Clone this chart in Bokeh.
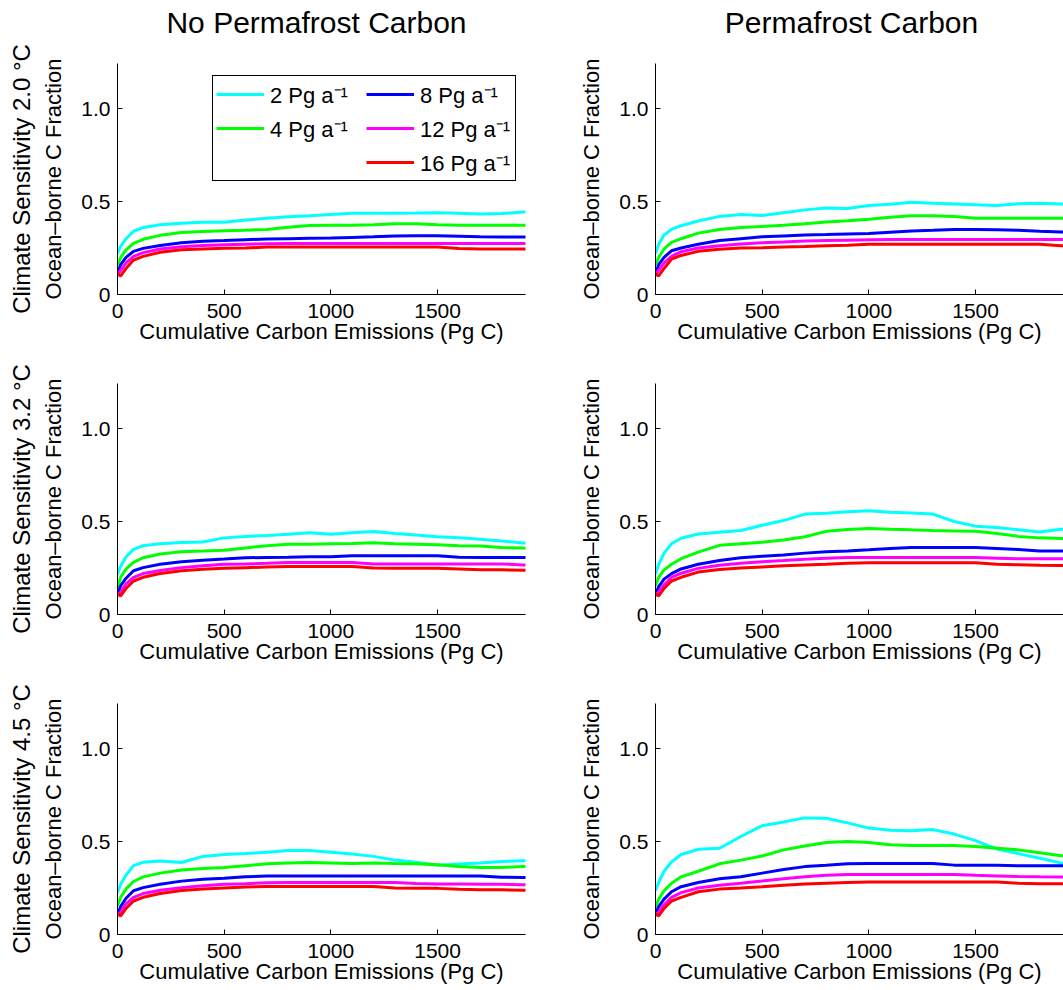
from bokeh.plotting import figure
from bokeh.layouts import column, row
from bokeh.models import Range1d, FixedTicker, Title, Legend, LegendItem
from bokeh.core.properties import value
from bokeh.embed import file_html
from bokeh.resources import INLINE

FONT = "Liberation Sans"

# ---------------- data ----------------
X = [0, 15, 40, 75, 120, 200, 300, 400, 500, 600, 700, 800, 900, 1000,
     1100, 1200, 1300, 1400, 1500, 1600, 1700, 1800, 1900, 1960]

LABELS = ["2 Pg a⁻¹", "4 Pg a⁻¹", "8 Pg a⁻¹", "12 Pg a⁻¹", "16 Pg a⁻¹"]
COLORS = ["#00FFFF", "#00FF00", "#0000FF", "#FF00FF", "#FF0000"]
COL_TITLES = ["No Permafrost Carbon", "Permafrost Carbon"]
ROW_TITLES = ["Climate Sensitivity 2.0 °C", "Climate Sensitivity 3.2 °C",
              "Climate Sensitivity 4.5 °C"]
X_LABEL = "Cumulative Carbon Emissions (Pg C)"
Y_LABEL = "Ocean–borne C Fraction"
X_TICKS = [0, 500, 1000, 1500]
Y_TICKS = [0, 0.5, 1.0]
Y_TICK_LABELS = {0: "0", 0.5: "0.5", 1: "1.0"}

# No permafrost carbon, climate sensitivity 2.0
np20_2 = [0.22, 0.26, 0.30, 0.34, 0.36, 0.375, 0.383, 0.388, 0.389, 0.40, 0.41, 0.418, 0.423, 0.43, 0.437, 0.437, 0.437, 0.438, 0.44, 0.437, 0.433, 0.435, 0.443, 0.445]
np20_4 = [0.157, 0.20, 0.24, 0.275, 0.297, 0.318, 0.333, 0.339, 0.343, 0.346, 0.35, 0.362, 0.371, 0.372, 0.373, 0.375, 0.38, 0.38, 0.375, 0.373, 0.372, 0.372, 0.372, 0.372]
np20_8 = [0.113, 0.16, 0.20, 0.232, 0.248, 0.264, 0.278, 0.286, 0.29, 0.295, 0.298, 0.30, 0.302, 0.304, 0.307, 0.31, 0.315, 0.316, 0.316, 0.313, 0.31, 0.309, 0.309, 0.309]
np20_12 = [0.109, 0.13, 0.17, 0.205, 0.225, 0.245, 0.257, 0.264, 0.267, 0.27, 0.273, 0.274, 0.274, 0.274, 0.274, 0.274, 0.274, 0.274, 0.274, 0.274, 0.274, 0.274, 0.274, 0.274]
np20_16 = [0.11, 0.10, 0.14, 0.185, 0.205, 0.227, 0.24, 0.245, 0.248, 0.25, 0.255, 0.255, 0.255, 0.255, 0.255, 0.255, 0.255, 0.255, 0.255, 0.247, 0.245, 0.245, 0.245, 0.245]

# Permafrost carbon, climate sensitivity 2.0
pf20_2 = [0.22, 0.27, 0.32, 0.35, 0.37, 0.395, 0.42, 0.43, 0.425, 0.44, 0.455, 0.465, 0.462, 0.478, 0.485, 0.496, 0.49, 0.487, 0.483, 0.478, 0.488, 0.49, 0.487, 0.484]
pf20_4 = [0.157, 0.20, 0.245, 0.28, 0.30, 0.33, 0.35, 0.36, 0.366, 0.372, 0.38, 0.39, 0.397, 0.405, 0.415, 0.423, 0.423, 0.42, 0.41, 0.41, 0.41, 0.41, 0.41, 0.41]
pf20_8 = [0.113, 0.16, 0.20, 0.235, 0.25, 0.27, 0.29, 0.30, 0.31, 0.315, 0.32, 0.322, 0.325, 0.328, 0.335, 0.342, 0.345, 0.35, 0.35, 0.348, 0.345, 0.34, 0.336, 0.335]
pf20_12 = [0.109, 0.13, 0.17, 0.205, 0.23, 0.25, 0.262, 0.272, 0.278, 0.282, 0.287, 0.29, 0.292, 0.294, 0.296, 0.296, 0.296, 0.296, 0.296, 0.296, 0.296, 0.296, 0.296, 0.296]
pf20_16 = [0.11, 0.10, 0.14, 0.19, 0.21, 0.232, 0.243, 0.25, 0.252, 0.255, 0.258, 0.262, 0.265, 0.27, 0.27, 0.27, 0.27, 0.27, 0.27, 0.27, 0.27, 0.27, 0.262, 0.26]

# No permafrost carbon, climate sensitivity 3.2
np32_2 = [0.217, 0.26, 0.31, 0.35, 0.37, 0.38, 0.387, 0.39, 0.412, 0.42, 0.425, 0.432, 0.44, 0.432, 0.44, 0.446, 0.436, 0.428, 0.418, 0.412, 0.405, 0.395, 0.385, 0.383]
np32_4 = [0.144, 0.20, 0.245, 0.28, 0.305, 0.325, 0.338, 0.341, 0.345, 0.358, 0.37, 0.378, 0.378, 0.38, 0.382, 0.386, 0.38, 0.378, 0.375, 0.37, 0.368, 0.36, 0.357, 0.356]
np32_8 = [0.108, 0.155, 0.195, 0.235, 0.252, 0.27, 0.283, 0.292, 0.298, 0.305, 0.307, 0.308, 0.31, 0.31, 0.316, 0.316, 0.316, 0.316, 0.316, 0.308, 0.307, 0.307, 0.307, 0.307]
np32_12 = [0.108, 0.12, 0.165, 0.20, 0.22, 0.237, 0.252, 0.262, 0.27, 0.272, 0.275, 0.28, 0.28, 0.28, 0.28, 0.272, 0.272, 0.272, 0.272, 0.272, 0.272, 0.272, 0.266, 0.265]
np32_16 = [0.11, 0.10, 0.14, 0.18, 0.20, 0.22, 0.235, 0.243, 0.249, 0.252, 0.255, 0.258, 0.258, 0.258, 0.258, 0.25, 0.249, 0.249, 0.248, 0.245, 0.24, 0.24, 0.238, 0.237]

# Permafrost carbon, climate sensitivity 3.2
pf32_2 = [0.216, 0.27, 0.33, 0.38, 0.41, 0.433, 0.442, 0.452, 0.48, 0.505, 0.54, 0.545, 0.552, 0.558, 0.55, 0.546, 0.54, 0.50, 0.475, 0.468, 0.456, 0.443, 0.458, 0.46]
pf32_4 = [0.153, 0.20, 0.24, 0.27, 0.30, 0.335, 0.372, 0.38, 0.388, 0.40, 0.418, 0.447, 0.457, 0.462, 0.458, 0.455, 0.451, 0.449, 0.447, 0.435, 0.42, 0.412, 0.409, 0.408]
pf32_8 = [0.108, 0.15, 0.19, 0.22, 0.245, 0.27, 0.29, 0.305, 0.313, 0.32, 0.33, 0.337, 0.342, 0.348, 0.355, 0.36, 0.36, 0.36, 0.36, 0.355, 0.35, 0.342, 0.342, 0.342]
pf32_12 = [0.108, 0.12, 0.16, 0.20, 0.222, 0.248, 0.265, 0.276, 0.284, 0.29, 0.297, 0.303, 0.306, 0.306, 0.306, 0.306, 0.306, 0.306, 0.306, 0.303, 0.30, 0.30, 0.30, 0.30]
pf32_16 = [0.11, 0.10, 0.14, 0.18, 0.20, 0.228, 0.242, 0.25, 0.256, 0.262, 0.266, 0.27, 0.276, 0.278, 0.278, 0.278, 0.278, 0.278, 0.278, 0.27, 0.268, 0.265, 0.264, 0.264]

# No permafrost carbon, climate sensitivity 4.5
np45_2 = [0.226, 0.27, 0.32, 0.37, 0.388, 0.395, 0.387, 0.42, 0.43, 0.435, 0.442, 0.451, 0.451, 0.442, 0.433, 0.42, 0.40, 0.388, 0.372, 0.379, 0.384, 0.392, 0.397, 0.397]
np45_4 = [0.153, 0.20, 0.245, 0.285, 0.31, 0.33, 0.347, 0.355, 0.36, 0.37, 0.38, 0.385, 0.387, 0.385, 0.382, 0.385, 0.382, 0.38, 0.375, 0.365, 0.36, 0.36, 0.366, 0.366]
np45_8 = [0.108, 0.15, 0.195, 0.235, 0.252, 0.27, 0.287, 0.297, 0.303, 0.31, 0.315, 0.315, 0.315, 0.315, 0.315, 0.315, 0.315, 0.315, 0.315, 0.315, 0.315, 0.308, 0.307, 0.307]
np45_12 = [0.108, 0.12, 0.165, 0.20, 0.22, 0.238, 0.252, 0.262, 0.27, 0.273, 0.278, 0.28, 0.28, 0.28, 0.28, 0.28, 0.28, 0.274, 0.272, 0.272, 0.27, 0.27, 0.268, 0.268]
np45_16 = [0.11, 0.10, 0.14, 0.18, 0.20, 0.22, 0.237, 0.244, 0.25, 0.255, 0.258, 0.258, 0.258, 0.258, 0.258, 0.258, 0.25, 0.249, 0.248, 0.243, 0.24, 0.24, 0.238, 0.238]

# Permafrost carbon, climate sensitivity 4.5
pf45_2 = [0.236, 0.28, 0.34, 0.39, 0.43, 0.458, 0.464, 0.527, 0.585, 0.605, 0.627, 0.625, 0.60, 0.572, 0.56, 0.558, 0.564, 0.54, 0.505, 0.46, 0.435, 0.41, 0.385, 0.375]
pf45_4 = [0.145, 0.19, 0.235, 0.275, 0.31, 0.34, 0.38, 0.40, 0.422, 0.455, 0.476, 0.495, 0.50, 0.495, 0.482, 0.478, 0.478, 0.478, 0.473, 0.464, 0.455, 0.44, 0.424, 0.418]
pf45_8 = [0.109, 0.15, 0.19, 0.23, 0.257, 0.28, 0.30, 0.31, 0.33, 0.35, 0.365, 0.372, 0.38, 0.382, 0.382, 0.382, 0.382, 0.373, 0.373, 0.372, 0.37, 0.37, 0.369, 0.369]
pf45_12 = [0.109, 0.12, 0.16, 0.20, 0.225, 0.25, 0.265, 0.275, 0.288, 0.30, 0.31, 0.318, 0.323, 0.323, 0.323, 0.323, 0.323, 0.323, 0.318, 0.315, 0.312, 0.31, 0.309, 0.309]
pf45_16 = [0.11, 0.10, 0.14, 0.18, 0.20, 0.23, 0.244, 0.25, 0.257, 0.265, 0.272, 0.276, 0.28, 0.282, 0.282, 0.282, 0.282, 0.282, 0.282, 0.282, 0.275, 0.273, 0.273, 0.273]

PANELS = [
    [[np20_2, np20_4, np20_8, np20_12, np20_16], [pf20_2, pf20_4, pf20_8, pf20_12, pf20_16]],
    [[np32_2, np32_4, np32_8, np32_12, np32_16], [pf32_2, pf32_4, pf32_8, pf32_12, pf32_16]],
    [[np45_2, np45_4, np45_8, np45_12, np45_16], [pf45_2, pf45_4, pf45_8, pf45_12, pf45_16]],
]

# ---------------- layout ----------------
PAGE_W = 1063
HEADER_H = 42
TITLE_CENTER = 21.7   # from the top of the page
FRAME_H = 231
FRAME_W = 408
BORDER_L = 117
LEFT_W = 538
RIGHT_W = 525
TOP = [21, 29, 29]
BOT = [60, 60, 56]


def make_header():
    h = figure(width=PAGE_W, height=HEADER_H, x_range=Range1d(0, PAGE_W),
               y_range=Range1d(0, HEADER_H), output_backend="svg",
               toolbar_location=None, title=None,
               min_border_left=0, min_border_right=0, min_border_top=0,
               min_border_bottom=0)
    h.axis.visible = False
    h.xgrid.visible = False
    h.ygrid.visible = False
    h.outline_line_color = None
    h.background_fill_color = "white"
    h.border_fill_color = "white"
    cx = [BORDER_L + FRAME_W / 2 - 5, LEFT_W + BORDER_L + FRAME_W / 2 - 8]
    h.text(x=cx, y=[HEADER_H - TITLE_CENTER] * 2, text=COL_TITLES,
           text_font=value(FONT), text_font_size="30px", text_color="black",
           text_align="center", text_baseline="middle")
    return h


def make_panel(r, c):
    left = c == 0
    p = figure(width=LEFT_W if left else RIGHT_W, height=TOP[r] + FRAME_H + BOT[r],
               x_range=Range1d(0, 1912), y_range=Range1d(0, 1.242),
               output_backend="svg", toolbar_location=None, title=None,
               min_border_left=BORDER_L, min_border_right=13 if left else 0,
               min_border_top=TOP[r], min_border_bottom=BOT[r])
    p.background_fill_color = "white"
    p.border_fill_color = "white"
    p.outline_line_color = None
    p.xgrid.visible = False
    p.ygrid.visible = False

    renderers = []
    for ys, col in zip(PANELS[r][c], COLORS):
        renderers.append(p.line(X, ys, line_color=col, line_width=3))

    p.xaxis.ticker = FixedTicker(ticks=X_TICKS)
    p.yaxis.ticker = FixedTicker(ticks=Y_TICKS)
    p.yaxis.major_label_overrides = Y_TICK_LABELS
    p.xaxis.axis_label = X_LABEL
    p.yaxis.axis_label = Y_LABEL
    for ax in (p.xaxis[0], p.yaxis[0]):
        ax.major_tick_in = 5
        ax.major_tick_out = 0
        ax.minor_tick_line_color = None
        ax.axis_line_color = "black"
        ax.major_tick_line_color = "black"
        ax.major_label_text_font = FONT
        ax.major_label_text_font_size = "21px"
        ax.major_label_text_color = "black"
        ax.axis_label_text_font = FONT
        ax.axis_label_text_font_size = "22px"
        ax.axis_label_text_font_style = "normal"
        ax.axis_label_text_color = "black"
    p.xaxis.major_label_standoff = 9
    p.xaxis.axis_label_standoff = -2
    p.yaxis.major_label_standoff = 7
    p.yaxis.axis_label_standoff = 12

    if left:
        p.add_layout(Title(text=ROW_TITLES[r], align="center", text_font=FONT,
                           text_font_size="24px", text_font_style="normal",
                           text_color="black", standoff=8), "left")

    if r == 0 and c == 0:
        blank = p.line([0], [0], line_alpha=0, line_width=3)
        items = [LegendItem(label=LABELS[0], renderers=[renderers[0]]),
                 LegendItem(label=LABELS[1], renderers=[renderers[1]]),
                 LegendItem(label=" ", renderers=[blank]),
                 LegendItem(label=LABELS[2], renderers=[renderers[2]]),
                 LegendItem(label=LABELS[3], renderers=[renderers[3]]),
                 LegendItem(label=LABELS[4], renderers=[renderers[4]])]
        legend = Legend(items=items, location=(95, 113), orientation="vertical", nrows=3,
                        label_text_font=FONT, label_text_font_size="22px",
                        label_text_color="black", glyph_width=48, glyph_height=20,
                        label_height=20, label_width=92, label_standoff=6,
                        spacing=4, padding=3, margin=0,
                        border_line_color="black", border_line_width=1.5,
                        border_line_alpha=1.0,
                        background_fill_color="white", background_fill_alpha=1.0)
        p.add_layout(legend)
    return p


rows = [make_header()]
for r in range(3):
    rows.append(row(make_panel(r, 0), make_panel(r, 1)))
layout = column(*rows)

open("out.html", "w").write(file_html(layout, INLINE))
